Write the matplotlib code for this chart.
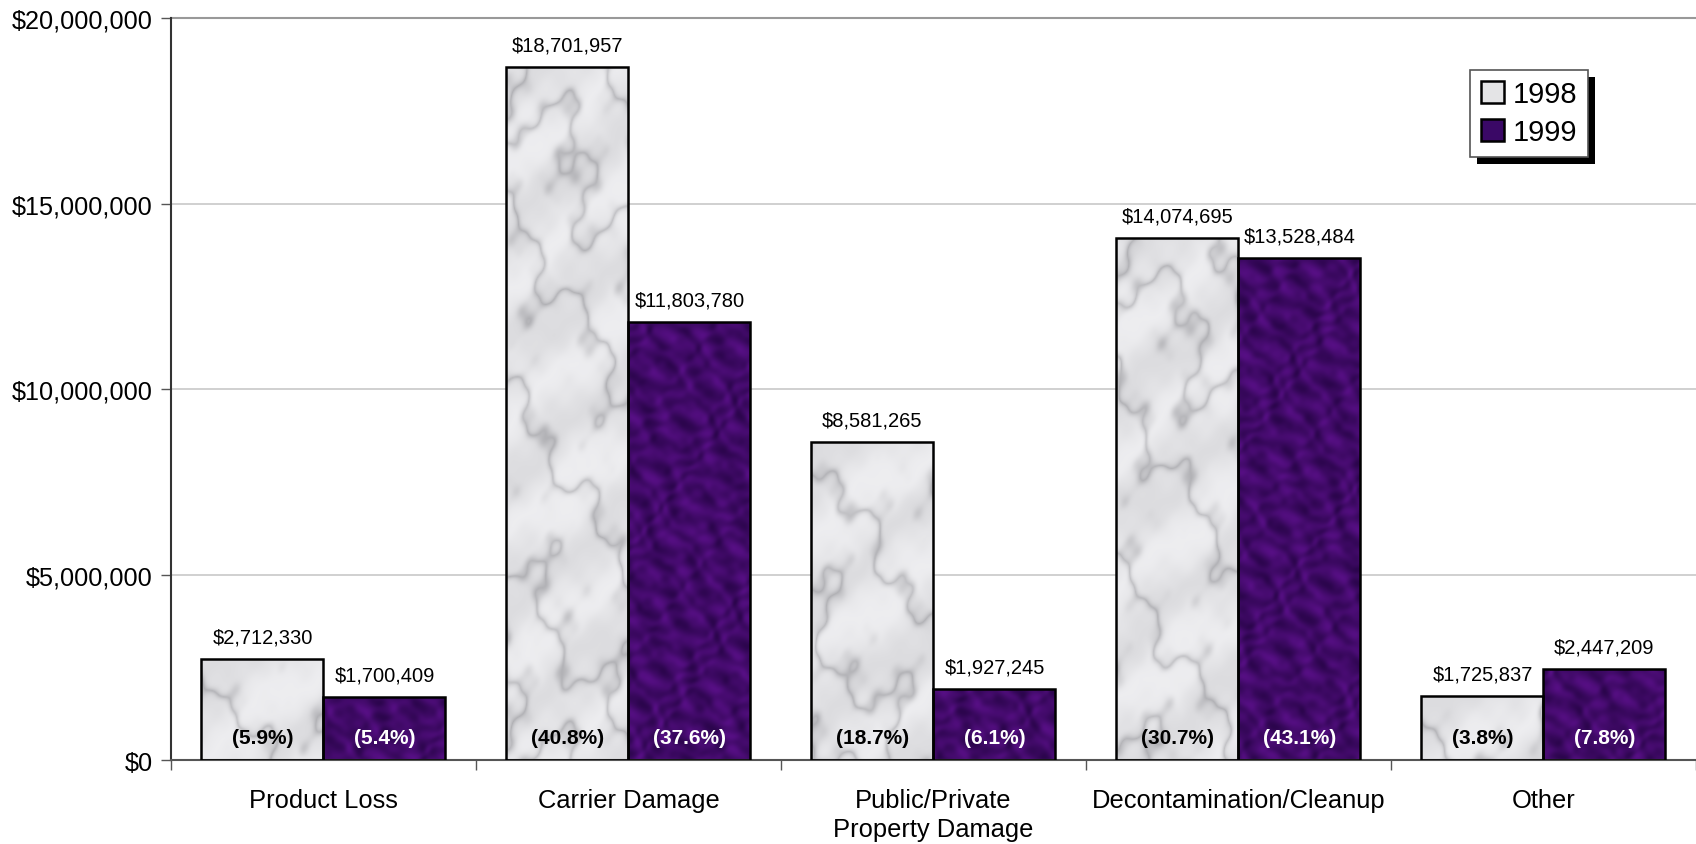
import numpy as np
import matplotlib
matplotlib.use("Agg")
import matplotlib.pyplot as plt
import matplotlib.patches as mpatches
from matplotlib.ticker import FuncFormatter, FixedLocator

plt.rcParams["font.family"] = ["Liberation Sans", "DejaVu Sans"]

categories = ["Product Loss", "Carrier Damage", "Public/Private\nProperty Damage",
              "Decontamination/Cleanup", "Other"]
years = ["1998", "1999"]
costs_1998 = [2712330, 18701957, 8581265, 14074695, 1725837]
costs_1999 = [1700409, 11803780, 1927245, 13528484, 2447209]
pct_1998 = ["(5.9%)", "(40.8%)", "(18.7%)", "(30.7%)", "(3.8%)"]
pct_1999 = ["(5.4%)", "(37.6%)", "(6.1%)", "(43.1%)", "(7.8%)"]

GREY_BASE = np.array([0.93, 0.93, 0.94])
GREY_VEIN = np.array([0.50, 0.50, 0.52])
PURPLE_DARK = np.array([0.17, 0.02, 0.30])
PURPLE_LIGHT = np.array([0.34, 0.06, 0.52])


def turbulence(h, w, phase):
    yy, xx = np.mgrid[0:h, 0:w].astype(float)
    t = (np.sin(xx * 0.045 + phase) * np.cos(yy * 0.03 - phase)
         + 0.6 * np.sin(xx * 0.09 + yy * 0.06 + 2 * phase)
         + 0.25 * np.cos(xx * 0.17 - yy * 0.12 + phase)
         + 0.1 * np.sin(xx * 0.31 + yy * 0.23 - phase))
    return xx, yy, t


def marble_grey(h, w, phase):
    xx, yy, t = turbulence(h, w, phase)
    v = np.abs(np.sin(xx * 0.03 - yy * 0.02 + 1.0 * t))
    vein = (1 - v) ** 3 * 0.4
    soft = 0.15 * (0.5 + 0.5 * np.sin(xx * 0.04 + yy * 0.05 + 0.8 * t))
    k = np.clip(vein + soft, 0, 1)
    img = GREY_BASE * (1 - k[..., None]) + GREY_VEIN * k[..., None]
    return np.clip(img, 0, 1)


def marble_purple(h, w, phase):
    xx, yy, t = turbulence(h, w, phase)
    m = (np.sin(xx * 0.13 + yy * 0.11 + 2 * t) * np.cos(yy * 0.17 - xx * 0.07 + 1.5 * t)
         + 0.5 * np.sin(xx * 0.23 - yy * 0.19 + 3 * t))
    m = np.clip(0.5 + 0.33 * m, 0, 1)
    img = PURPLE_DARK * (1 - m[..., None]) + PURPLE_LIGHT * m[..., None]
    return np.clip(img, 0, 1)


fig = plt.figure(figsize=(16.96, 8.45), dpi=100)
ax = fig.add_axes([0.1008, 0.0994, 0.8992, 0.8776])

x = np.arange(len(categories))
w = 0.4
bars98 = ax.bar(x - w / 2, costs_1998, w, facecolor="none", edgecolor="black",
                linewidth=1.8, zorder=3)
bars99 = ax.bar(x + w / 2, costs_1999, w, facecolor="none", edgecolor="black",
                linewidth=1.8, zorder=3)

# texture fills, sized so the pattern scale is the same on every bar
PX_PER_VAL = 740 / 20000000
for bars, maker, ph in [(bars98, marble_grey, 1.7), (bars99, marble_purple, 2.3)]:
    for i, b in enumerate(bars):
        hpx = max(int(b.get_height() * PX_PER_VAL), 4)
        img = maker(hpx, 122, i * ph)
        im = ax.imshow(img, extent=[b.get_x(), b.get_x() + b.get_width(), 0, b.get_height()],
                       aspect="auto", zorder=2, interpolation="bilinear")
        im.set_clip_path(b)

for bars, vals, pcts, pc in [(bars98, costs_1998, pct_1998, "black"),
                             (bars99, costs_1999, pct_1999, "white")]:
    for b, v, p in zip(bars, vals, pcts):
        cx = b.get_x() + b.get_width() / 2
        ax.annotate(f"${v:,}", (cx, v), xytext=(0, 9), textcoords="offset points",
                    ha="center", va="bottom", fontsize=14.5, zorder=5)
        ax.annotate(p, (cx, 0), xytext=(0, 16), textcoords="offset points",
                    ha="center", va="center", fontsize=15, fontweight="bold",
                    color=pc, zorder=5)

ax.set_xlim(-0.5, len(categories) - 0.5)
ax.set_ylim(0, 20000000)
ax.yaxis.set_major_locator(FixedLocator(np.arange(0, 20000001, 5000000)))
ax.yaxis.set_major_formatter(FuncFormatter(lambda v, _: f"${v:,.0f}"))
ax.set_xticks(x)
ax.set_xticklabels(categories, fontsize=18.4, linespacing=1.3)
ax.set_xticks(np.arange(-0.5, len(categories), 1.0), minor=True)
ax.tick_params(axis="x", which="major", length=0, pad=20)
ax.tick_params(axis="x", which="minor", length=7, width=1, color="#555555")
ax.tick_params(axis="y", labelsize=18.2, length=7, width=1, color="#555555", pad=6)

ax.grid(axis="y", color="#c8c8c8", linewidth=1.2, zorder=0)
ax.set_axisbelow(True)
for s in ["top", "right"]:
    ax.spines[s].set_visible(False)
ax.spines["left"].set_color("#333333")
ax.spines["left"].set_linewidth(1.5)
ax.spines["bottom"].set_color("#555555")
ax.spines["bottom"].set_linewidth(1.5)
ax.axhline(20000000, color="#999999", linewidth=1.5, zorder=1, clip_on=False)

handles = [mpatches.Patch(facecolor="#e4e4e6", edgecolor="black", linewidth=1.8),
           mpatches.Patch(facecolor="#3a0866", edgecolor="black", linewidth=1.8)]
leg = ax.legend(handles, years, loc="upper left", bbox_to_anchor=(0.867, 0.916),
                bbox_transform=fig.transFigure, fontsize=21, fancybox=False,
                framealpha=1, edgecolor="#555555", handlelength=0.8,
                handleheight=0.8, handletextpad=0.3, borderpad=0.35,
                labelspacing=0.35, borderaxespad=0)
leg.get_frame().set_linewidth(1.2)
leg.set_zorder(10)

# solid black drop shadow behind the legend box
fig.canvas.draw()
bb = leg.get_window_extent().transformed(fig.transFigure.inverted())
off_x, off_y = 7 / 1696, 7 / 845
ax.add_patch(mpatches.Rectangle((bb.x0 + off_x, bb.y0 - off_y), bb.width, bb.height,
                                transform=fig.transFigure, facecolor="black",
                                edgecolor="none", zorder=9, clip_on=False))

fig.savefig("out.png", dpi=100)
